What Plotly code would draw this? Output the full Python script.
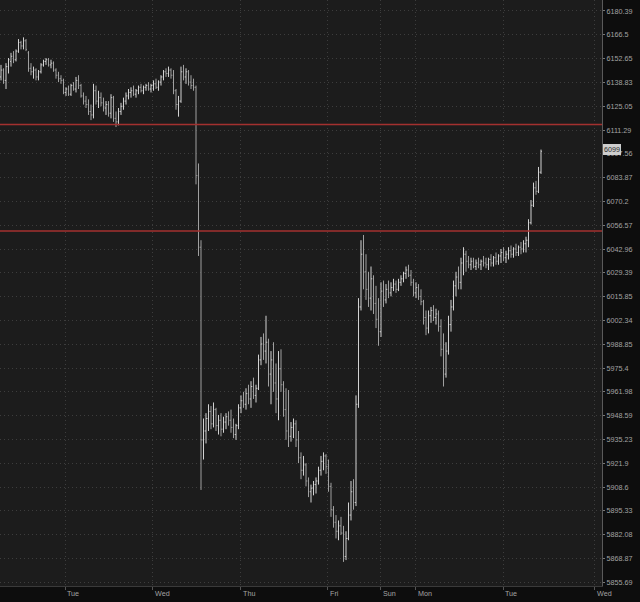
import math
import plotly.graph_objects as go

opens = [
    6142, 6146, 6140, 6148, 6151, 6154, 6152, 6157, 6162, 6160,
    6163, 6156, 6147, 6145, 6146, 6142, 6145, 6149, 6151, 6152,
    6149, 6150, 6146, 6143, 6141, 6140, 6133, 6135, 6132, 6137,
    6135, 6140, 6137, 6131, 6128, 6126, 6122, 6120, 6134, 6128,
    6130, 6127, 6124, 6126, 6121, 6130, 6118, 6116, 6122, 6125,
    6128, 6131, 6133, 6134, 6132, 6134, 6136, 6134, 6136, 6137,
    6135, 6137, 6138, 6136, 6139, 6142, 6145, 6144, 6146, 6143,
    6134, 6126, 6128, 6145, 6142, 6145, 6139, 6137, 6136, 6085,
    6044, 5935, 5940, 5947, 5951, 5944, 5952, 5943, 5946, 5941,
    5945, 5948, 5946, 5942, 5938, 5943, 5953, 5957, 5955, 5961,
    5958, 5965, 5960, 5964, 5980, 5989, 5985, 5990, 5972, 5980,
    5967, 5958, 5975, 5966, 5952, 5940, 5937, 5942, 5944, 5935,
    5925, 5918, 5921, 5912, 5906, 5908, 5910, 5912, 5918, 5923,
    5926, 5920, 5909, 5896, 5889, 5884, 5887, 5883, 5870, 5880,
    5893, 5906, 5900, 5955, 6010, 6040, 6030, 6020, 6015, 6026,
    6012, 6003, 5996, 6019, 6014, 6020, 6018, 6021, 6023, 6020,
    6024, 6026, 6029, 6031, 6028, 6024, 6018, 6021, 6016, 6013,
    6004, 5998, 6005, 6008, 6004, 6006, 5999, 5986, 5972, 5985,
    6000, 6010, 6022, 6027, 6024, 6035, 6040, 6036, 6034, 6036,
    6033, 6035, 6034, 6036, 6035, 6034, 6037, 6035, 6038, 6036,
    6039, 6041, 6038, 6040, 6042, 6040, 6043, 6041, 6044, 6043,
    6046, 6048, 6058, 6068, 6078, 6076, 6087,
]
highs = [
    6149, 6147, 6150, 6153, 6156, 6157, 6158, 6164, 6163, 6165,
    6164, 6157, 6150, 6148, 6147, 6146, 6150, 6152, 6153, 6153,
    6152, 6151, 6147, 6145, 6143, 6141, 6136, 6137, 6138, 6139,
    6142, 6143, 6138, 6133, 6131, 6129, 6126, 6138, 6137, 6134,
    6133, 6130, 6128, 6128, 6132, 6131, 6122, 6124, 6127, 6130,
    6133, 6135, 6136, 6137, 6135, 6137, 6138, 6137, 6138, 6139,
    6138, 6140, 6141, 6140, 6143, 6146, 6147, 6148, 6147, 6146,
    6135, 6131, 6148, 6149, 6147, 6146, 6143, 6141, 6137, 6092,
    6048, 5947, 5950, 5955, 5954, 5956, 5953, 5949, 5950, 5948,
    5950, 5951, 5952, 5947, 5944, 5955, 5960, 5962, 5964, 5966,
    5968, 5970, 5966, 5983, 5993, 5995, 6005, 5992, 5985, 5990,
    5978, 5985, 5986, 5968, 5964, 5963, 5945, 5947, 5946, 5940,
    5928, 5926, 5922, 5914, 5910, 5912, 5914, 5920, 5926, 5928,
    5927, 5924, 5911, 5898, 5893, 5890, 5892, 5887, 5884, 5900,
    5912, 5913, 5960, 6015, 6048, 6051, 6040, 6030, 6033, 6028,
    6022, 6015, 6024, 6025, 6023, 6025, 6024, 6026, 6025, 6026,
    6028, 6030, 6033, 6034, 6031, 6026, 6024, 6023, 6020, 6014,
    6008, 6008, 6010, 6011, 6009, 6008, 6003, 5995, 5990, 6005,
    6014, 6025, 6030, 6033, 6038, 6044, 6042, 6039, 6038, 6038,
    6037, 6038, 6037, 6039, 6038, 6038, 6040, 6039, 6041, 6040,
    6043, 6044, 6042, 6044, 6045, 6044, 6046, 6045, 6047, 6048,
    6050, 6060, 6071, 6081, 6082, 6090, 6100,
]
lows = [
    6140, 6138, 6135, 6144, 6148, 6150, 6151, 6156, 6158, 6158,
    6157, 6145, 6143, 6141, 6140, 6140, 6144, 6148, 6149, 6148,
    6147, 6145, 6141, 6139, 6138, 6132, 6131, 6131, 6131, 6134,
    6133, 6135, 6130, 6126, 6124, 6120, 6117, 6118, 6126, 6124,
    6125, 6122, 6120, 6119, 6118, 6116, 6113, 6114, 6120, 6123,
    6126, 6129, 6130, 6131, 6130, 6132, 6133, 6132, 6134, 6134,
    6133, 6134, 6135, 6134, 6137, 6140, 6142, 6142, 6141, 6132,
    6123, 6119, 6127, 6140, 6138, 6137, 6135, 6134, 6080, 6039,
    5907, 5924, 5933, 5940, 5941, 5942, 5940, 5938, 5937, 5939,
    5941, 5943, 5939, 5936, 5935, 5941, 5950, 5953, 5952, 5955,
    5953, 5958, 5956, 5963, 5977, 5980, 5978, 5965, 5955, 5962,
    5950, 5946, 5962, 5948, 5935, 5931, 5934, 5936, 5931, 5922,
    5913, 5915, 5909, 5903, 5900, 5904, 5905, 5910, 5915, 5918,
    5916, 5906, 5892, 5886, 5880, 5879, 5882, 5867, 5868, 5879,
    5890, 5896, 5898, 5953, 6008, 6020, 6014, 6010, 6008, 6006,
    5998, 5988, 5993, 6010, 6012, 6015, 6016, 6019, 6018, 6019,
    6022, 6024, 6026, 6027, 6022, 6016, 6015, 6014, 6011, 6000,
    5994, 5995, 6001, 6002, 6000, 5996, 5982, 5965, 5970, 5983,
    5996, 6008, 6016, 6020, 6020, 6028, 6030, 6032, 6031, 6032,
    6031, 6032, 6031, 6033, 6032, 6031, 6033, 6033, 6034, 6034,
    6035, 6036, 6035, 6037, 6038, 6038, 6039, 6039, 6040, 6041,
    6041, 6044, 6057, 6067, 6074, 6075, 6086,
]
closes = [
    6146, 6140, 6148, 6152, 6154, 6152, 6157, 6162, 6160, 6163,
    6158, 6147, 6145, 6146, 6142, 6145, 6149, 6151, 6152, 6149,
    6150, 6146, 6143, 6141, 6140, 6133, 6135, 6132, 6137, 6135,
    6140, 6137, 6131, 6128, 6126, 6122, 6120, 6134, 6128, 6130,
    6127, 6124, 6126, 6121, 6130, 6118, 6116, 6122, 6125, 6128,
    6131, 6133, 6134, 6132, 6134, 6136, 6134, 6136, 6137, 6135,
    6137, 6138, 6136, 6139, 6142, 6145, 6144, 6146, 6143, 6134,
    6126, 6128, 6145, 6142, 6145, 6139, 6137, 6136, 6085, 6044,
    5935, 5940, 5947, 5951, 5944, 5952, 5943, 5946, 5941, 5945,
    5948, 5946, 5942, 5938, 5943, 5953, 5957, 5955, 5961, 5958,
    5965, 5960, 5964, 5980, 5989, 5985, 5990, 5972, 5980, 5967,
    5958, 5975, 5966, 5952, 5940, 5937, 5942, 5944, 5935, 5925,
    5918, 5921, 5912, 5906, 5908, 5910, 5912, 5918, 5923, 5926,
    5920, 5909, 5896, 5889, 5884, 5887, 5883, 5870, 5880, 5893,
    5906, 5900, 5955, 6010, 6040, 6030, 6020, 6015, 6026, 6012,
    6003, 5996, 6019, 6014, 6020, 6018, 6021, 6023, 6020, 6024,
    6026, 6029, 6031, 6028, 6024, 6018, 6021, 6016, 6013, 6004,
    5998, 6005, 6008, 6004, 6006, 5999, 5986, 5972, 5985, 6000,
    6010, 6022, 6027, 6024, 6035, 6040, 6036, 6034, 6036, 6033,
    6035, 6034, 6036, 6035, 6034, 6037, 6035, 6038, 6036, 6039,
    6041, 6038, 6040, 6042, 6040, 6043, 6041, 6044, 6043, 6046,
    6048, 6058, 6068, 6078, 6076, 6087, 6099,
]
bar_index = list(range(len(closes)))

price_ticks = [6180.39, 6166.5, 6152.65, 6138.83, 6125.05, 6111.29, 6097.56,
               6083.87, 6070.2, 6056.57, 6042.96, 6029.39, 6015.85, 6002.34,
               5988.85, 5975.4, 5961.98, 5948.59, 5935.23, 5921.9, 5908.6,
               5895.33, 5882.08, 5868.87, 5855.69]
price_tick_text = ["6180.39", "6166.5", "6152.65", "6138.83", "6125.05", "6111.29",
                   "6097.56", "6083.87", "6070.2", "6056.57", "6042.96", "6029.39",
                   "6015.85", "6002.34", "5988.85", "5975.4", "5961.98", "5948.59",
                   "5935.23", "5921.9", "5908.6", "5895.33", "5882.08", "5868.87",
                   "5855.69"]

day_labels = ["Tue", "Wed", "Thu", "Fri", "Sun", "Mon", "Tue", "Wed"]
day_positions = [25.7, 60.7, 95.8, 130.7, 151.9, 165.8, 200.8, 237.4]

level_lines = [6114.5, 6053.25]
last_price_label = "6099"

BG_PLOT = "#1c1c1c"
BG_PAPER = "#0d0d0d"
GRID = "#3d3d3d"
TXT = "#a3a3a3"

fig = go.Figure()
fig.add_trace(go.Ohlc(
    x=bar_index, open=opens, high=highs, low=lows, close=closes,
    increasing=dict(line=dict(color="#d2d2d2", width=1)),
    decreasing=dict(line=dict(color="#a0a0a0", width=1)),
    tickwidth=0.35, hoverinfo="skip", showlegend=False,
))

for lv in level_lines:
    fig.add_shape(type="line", xref="paper", x0=0, x1=1, yref="y", y0=lv, y1=lv,
                  line=dict(color="#a3302f", width=1.4), layer="above")

for lab, pos in zip(day_labels, day_positions):
    fig.add_annotation(x=pos, xref="x", y=0, yref="paper", text=lab,
                       showarrow=False, xanchor="left", yanchor="top",
                       xshift=0, yshift=-1,
                       font=dict(family="Liberation Sans", size=7.2, color=TXT))

fig.add_annotation(x=1, xref="paper", y=math.log10(closes[-1]), yref="y",
                   text=last_price_label, showarrow=False, xanchor="left",
                   yanchor="middle", xshift=1, yshift=2,
                   bgcolor="#cdcdcd", bordercolor="#e0e0e0", borderwidth=0, borderpad=1,
                   font=dict(family="Liberation Sans", size=7.2, color="#2a2a2a"))

fig.update_xaxes(
    range=[-0.4, 240.4], tickvals=day_positions, showticklabels=False,
    ticks="outside", ticklen=3, tickcolor="#555555",
    showgrid=True, gridcolor=GRID, griddash="1px,3px", gridwidth=1,
    showline=True, linecolor="#3a3a3a", linewidth=1,
    zeroline=False, rangeslider=dict(visible=False), fixedrange=True,
)
fig.update_yaxes(
    type="log", side="right",
    range=[math.log10(5853.65), math.log10(6186.8)],
    tickvals=price_ticks, ticktext=price_tick_text,
    ticks="outside", ticklen=2, tickcolor="#777777",
    tickfont=dict(family="Liberation Sans", size=7.2, color=TXT),
    showgrid=True, gridcolor=GRID, griddash="1px,3px", gridwidth=1,
    showline=True, linecolor="#5a5a5a", linewidth=1,
    zeroline=False, fixedrange=True,
)
fig.update_layout(
    width=640, height=602,
    margin=dict(l=0, r=38, t=0, b=16),
    plot_bgcolor=BG_PLOT, paper_bgcolor=BG_PAPER,
    showlegend=False, hovermode=False,
)
fig.write_html(
    "out.html",
    config={"displayModeBar": False, "staticPlot": True},
    post_script="document.body.style.margin='0';document.body.style.background='#0d0d0d';",
)
